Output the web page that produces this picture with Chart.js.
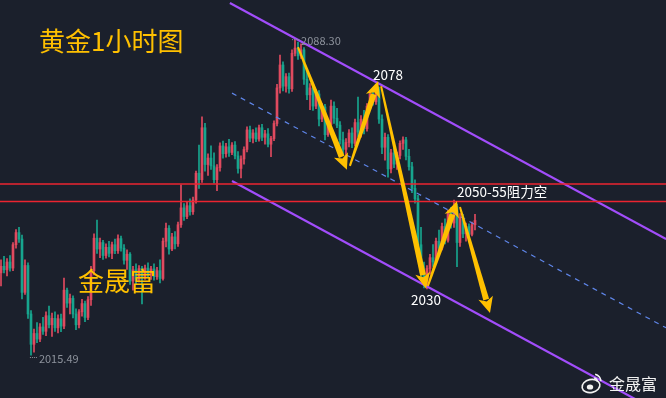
<!DOCTYPE html>
<html>
<head>
<meta charset="utf-8">
<script src="https://cdn.jsdelivr.net/npm/chart.js@4.4.1/dist/chart.umd.min.js"></script>
<style>
  html, body { margin: 0; padding: 0; background: #1b202c; }
  #box { width: 666px; height: 398px; position: relative; }
</style>
</head>
<body>
<div id="box"><canvas id="kline"></canvas></div>
<script>
// 黄金 1小时 K线 (开高低收), 从左到右
const opens = [
  2034.5, 2036.0, 2035.2, 2037.0, 2035.6, 2041.0, 2043.8, 2042.3, 2030.0, 2036.2,
  2025.0, 2018.0, 2020.5, 2019.2, 2022.0, 2021.0, 2024.6, 2022.5, 2024.0, 2021.8,
  2023.9, 2022.2, 2030.5, 2027.5, 2028.6, 2025.0, 2022.5, 2025.5, 2027.4, 2024.2,
  2028.3, 2035.0, 2042.5, 2040.0, 2041.5, 2038.5, 2040.4, 2039.0, 2041.0, 2039.6,
  2042.4, 2040.2, 2037.4, 2038.8, 2032.6, 2035.2, 2033.0, 2035.5, 2033.5, 2035.6,
  2034.2, 2035.4, 2033.6, 2035.0, 2033.2, 2041.8, 2044.8, 2040.0, 2042.8, 2041.2,
  2045.6, 2049.5, 2047.5, 2050.0, 2048.6, 2051.3, 2057.5, 2056.0, 2068.0, 2059.5,
  2061.0, 2059.2, 2056.0, 2058.8, 2063.8, 2062.0, 2063.6, 2062.3, 2064.0, 2061.5,
  2058.6, 2060.8, 2063.0, 2067.5, 2065.6, 2066.8, 2065.4, 2068.0, 2065.8, 2066.6,
  2064.2, 2065.5, 2069.0, 2077.2, 2082.5, 2077.6, 2079.8, 2077.0, 2085.2, 2086.4,
  2084.6, 2086.0, 2079.2, 2075.6, 2077.2, 2073.0, 2075.8, 2070.0, 2072.8, 2066.4,
  2068.8, 2073.0, 2070.2, 2068.6, 2065.2, 2063.0, 2064.6, 2066.8, 2064.4, 2069.2,
  2067.0, 2070.0, 2067.8, 2073.0, 2075.8, 2074.0, 2076.8, 2070.0, 2063.5, 2065.8,
  2058.5, 2062.2, 2059.6, 2061.6, 2064.4, 2065.2, 2061.4, 2059.0, 2054.0, 2051.6,
  2041.0, 2034.5, 2032.6, 2035.5, 2038.0, 2037.0, 2041.8, 2040.2, 2045.2, 2042.0,
  2048.2, 2046.0, 2049.8, 2041.5, 2047.4, 2043.5, 2045.2, 2043.4, 2045.6
];
const highs = [
  2037.5, 2038.3, 2037.8, 2038.5, 2041.5, 2044.5, 2045.0, 2043.2, 2037.5, 2036.8,
  2025.8, 2021.5, 2023.0, 2022.8, 2024.2, 2025.5, 2026.8, 2025.2, 2025.5, 2024.8,
  2025.0, 2033.3, 2031.0, 2029.6, 2029.2, 2026.2, 2026.0, 2028.4, 2028.0, 2029.0,
  2036.0, 2043.5, 2046.7, 2042.5, 2042.0, 2041.2, 2041.8, 2041.6, 2042.3, 2043.3,
  2043.0, 2041.0, 2039.8, 2039.2, 2036.0, 2036.6, 2036.2, 2036.0, 2036.3, 2036.8,
  2036.0, 2036.6, 2035.8, 2037.5, 2042.5, 2046.0, 2045.4, 2043.6, 2044.0, 2046.2,
  2054.8, 2050.5, 2050.8, 2051.6, 2052.0, 2058.0, 2064.0, 2070.5, 2069.0, 2062.0,
  2063.8, 2062.2, 2059.5, 2064.5, 2064.9, 2064.4, 2065.3, 2064.6, 2064.8, 2062.5,
  2061.5, 2063.6, 2068.2, 2068.4, 2067.6, 2068.0, 2068.6, 2068.8, 2067.4, 2067.8,
  2066.0, 2069.6, 2078.0, 2084.8, 2083.2, 2080.5, 2080.6, 2086.0, 2088.3, 2087.8,
  2087.4, 2086.5, 2081.0, 2078.2, 2078.0, 2076.8, 2076.6, 2073.6, 2073.4, 2069.6,
  2074.4, 2074.0, 2072.5, 2069.4, 2067.0, 2065.5, 2067.6, 2068.0, 2070.0, 2075.1,
  2070.8, 2072.0, 2073.6, 2076.6, 2077.0, 2078.0, 2077.4, 2071.0, 2066.8, 2066.4,
  2063.0, 2063.6, 2062.4, 2065.0, 2065.9, 2065.8, 2063.0, 2060.0, 2056.0, 2052.4,
  2045.0, 2037.0, 2036.2, 2038.8, 2041.0, 2042.5, 2044.4, 2046.0, 2047.0, 2049.0,
  2049.6, 2051.3, 2050.4, 2048.2, 2048.0, 2046.0, 2045.8, 2046.2, 2048.0
];
const lows = [
  2031.5, 2034.5, 2033.8, 2034.9, 2035.0, 2040.2, 2041.5, 2028.5, 2029.5, 2024.0,
  2015.5, 2016.2, 2018.4, 2018.6, 2020.3, 2020.0, 2021.8, 2019.8, 2021.0, 2020.6,
  2020.9, 2021.6, 2026.5, 2025.0, 2024.1, 2021.4, 2021.8, 2024.5, 2023.2, 2023.7,
  2027.0, 2034.0, 2039.0, 2038.0, 2037.6, 2037.9, 2038.2, 2037.8, 2038.9, 2039.0,
  2039.5, 2036.5, 2035.3, 2031.8, 2030.5, 2032.0, 2032.4, 2027.3, 2033.0, 2033.4,
  2033.0, 2032.8, 2033.0, 2032.2, 2032.8, 2040.5, 2038.8, 2039.6, 2040.0, 2040.6,
  2045.0, 2046.6, 2047.0, 2047.8, 2048.0, 2050.6, 2054.0, 2055.4, 2058.0, 2057.0,
  2058.4, 2055.2, 2053.5, 2058.0, 2061.0, 2061.2, 2061.4, 2061.8, 2060.8, 2057.5,
  2056.4, 2059.6, 2062.4, 2064.8, 2064.5, 2064.8, 2064.9, 2065.0, 2064.2, 2063.6,
  2061.3, 2065.0, 2068.4, 2076.0, 2076.5, 2076.2, 2076.0, 2076.4, 2084.6, 2083.8,
  2084.0, 2078.0, 2074.5, 2072.2, 2072.0, 2072.4, 2068.4, 2069.4, 2065.2, 2066.0,
  2068.4, 2069.0, 2068.0, 2064.2, 2062.0, 2060.6, 2063.6, 2063.4, 2063.8, 2066.0,
  2065.8, 2066.6, 2067.2, 2072.0, 2073.2, 2073.4, 2069.0, 2062.0, 2060.5, 2056.6,
  2057.6, 2058.8, 2058.4, 2060.8, 2063.0, 2060.6, 2058.2, 2053.0, 2050.6, 2040.0,
  2033.0, 2031.0, 2030.8, 2034.2, 2036.0, 2036.6, 2039.4, 2039.8, 2041.2, 2041.6,
  2044.8, 2045.0, 2035.9, 2040.6, 2042.6, 2041.8, 2042.6, 2043.0, 2044.4
];
const closes = [
  2036.0, 2035.2, 2037.0, 2035.6, 2041.0, 2043.8, 2042.3, 2030.0, 2036.2, 2025.0,
  2018.0, 2020.5, 2019.2, 2022.0, 2021.0, 2024.6, 2022.5, 2024.0, 2021.8, 2023.9,
  2022.2, 2030.5, 2027.5, 2028.6, 2025.0, 2022.5, 2025.5, 2027.4, 2024.2, 2028.3,
  2035.0, 2042.5, 2040.0, 2041.5, 2038.5, 2040.4, 2039.0, 2041.0, 2039.6, 2042.4,
  2040.2, 2037.4, 2038.8, 2032.6, 2035.2, 2033.0, 2035.5, 2033.5, 2035.6, 2034.2,
  2035.4, 2033.6, 2035.0, 2033.2, 2041.8, 2044.8, 2040.0, 2042.8, 2041.2, 2045.6,
  2049.5, 2047.5, 2050.0, 2048.6, 2051.3, 2057.5, 2056.0, 2068.0, 2059.5, 2061.0,
  2059.2, 2056.0, 2058.8, 2063.8, 2062.0, 2063.6, 2062.3, 2064.0, 2061.5, 2058.6,
  2060.8, 2063.0, 2067.5, 2065.6, 2066.8, 2065.4, 2068.0, 2065.8, 2066.6, 2064.2,
  2065.5, 2069.0, 2077.2, 2082.5, 2077.6, 2079.8, 2077.0, 2085.2, 2086.4, 2084.6,
  2086.0, 2079.2, 2075.6, 2077.2, 2073.0, 2075.8, 2070.0, 2072.8, 2066.4, 2068.8,
  2073.0, 2070.2, 2068.6, 2065.2, 2063.0, 2064.6, 2066.8, 2064.4, 2069.2, 2067.0,
  2070.0, 2067.8, 2073.0, 2075.8, 2074.0, 2076.8, 2070.0, 2063.5, 2065.8, 2058.5,
  2062.2, 2059.6, 2061.6, 2064.4, 2065.2, 2061.4, 2059.0, 2054.0, 2051.6, 2041.0,
  2034.5, 2032.6, 2035.5, 2038.0, 2037.0, 2041.8, 2040.2, 2045.2, 2042.0, 2048.2,
  2046.0, 2049.8, 2041.5, 2047.4, 2043.5, 2045.2, 2043.4, 2045.6, 2046.6
];

// 通道线 [K线序号, 价格]
const channelTop = [[76.3, 2096.8], [221.7, 2042.3]];
const channelMid = [[77, 2076.0], [221.7, 2021.8]];
const channelLow = [[77, 2055.7], [221.7, 2001.5]];
// 阻力区 2050-55
const resistance = [2055, 2051];

// 走势箭头 [起点序号, 起点价, 终点序号, 终点价]
const arrows = [
  [99, 2086.6, 115.3, 2058.3],
  [116.3, 2059.2, 125.7, 2078.8],
  [126.7, 2077.6, 141.7, 2030.8],
  [142.3, 2031.5, 152, 2051.1],
  [153, 2049.7, 163, 2025.2]
];

// 标注文字 [文字, 序号, 价格, 对齐]
const priceNotes = [
  ["2088.30", 99.7, 2088.0, "left"],
  ["2015.49", 12.3, 2014.6, "left"]
];
const callouts = [
  ["2078", 129, 2080.2, "center"],
  ["2050-55阻力空", 152, 2053.2, "left"],
  ["2030", 141.7, 2028.2, "center"]
];

const UP = "#e04a5f";
const DOWN = "#17a58e";
const GOLD = "#ffc000";
const FONT = "'Noto Sans CJK SC', 'Noto Sans', sans-serif";

const farbe = closes.map((c, i) => (c >= opens[i] ? UP : DOWN));
const dochte = highs.map((h, i) => ({ x: i, y: [lows[i], h] }));
const koerper = closes.map((c, i) => ({ x: i, y: [opens[i], c] }));
const toPts = arr => arr.map(p => ({ x: p[0], y: p[1] }));

// Pfeile, Texte und Logo
const deko = {
  id: "deko",
  afterDatasetsDraw(chart) {
    const ctx = chart.ctx;
    const xs = chart.scales.x, ys = chart.scales.y;
    ctx.save();

    // Pfeile, Schaft wird zur Spitze hin dicker
    ctx.fillStyle = GOLD;
    arrows.forEach(a => {
      const tx = xs.getPixelForValue(a[0]), ty = ys.getPixelForValue(a[1]);
      const hx = xs.getPixelForValue(a[2]), hy = ys.getPixelForValue(a[3]);
      const len = Math.hypot(hx - tx, hy - ty);
      const ux = (hx - tx) / len, uy = (hy - ty) / len;
      const nx = -uy, ny = ux;
      const headLen = 14, bx = hx - ux * headLen, by = hy - uy * headLen;
      ctx.beginPath();
      ctx.moveTo(tx + nx * 1, ty + ny * 1);
      ctx.lineTo(bx + nx * 3, by + ny * 3);
      ctx.lineTo(bx - nx * 3, by - ny * 3);
      ctx.lineTo(tx - nx * 1, ty - ny * 1);
      ctx.closePath();
      ctx.fill();
      ctx.beginPath();
      ctx.moveTo(hx, hy);
      ctx.lineTo(bx - ux * 2 + nx * 7.5, by - uy * 2 + ny * 7.5);
      ctx.lineTo(bx + ux * 2, by + uy * 2);
      ctx.lineTo(bx - ux * 2 - nx * 7.5, by - uy * 2 - ny * 7.5);
      ctx.closePath();
      ctx.fill();
    });

    // Hoch / Tief Beschriftung
    ctx.font = "11px " + FONT;
    ctx.textBaseline = "middle";
    priceNotes.forEach(n => {
      const px = xs.getPixelForValue(n[1]), py = ys.getPixelForValue(n[2]);
      ctx.fillStyle = "#8d929c";
      for (let d = 2; d <= 8; d += 2) ctx.fillRect(px - d, py - 2, 1, 1);
      ctx.textAlign = n[3];
      ctx.fillText(n[0], px + 1, py);
    });

    ctx.font = "13.5px " + FONT;
    ctx.fillStyle = "#ffffff";
    callouts.forEach(n => {
      ctx.textAlign = n[3];
      ctx.fillText(n[0], xs.getPixelForValue(n[1]), ys.getPixelForValue(n[2]));
    });

    // Titel und Wasserzeichen
    ctx.fillStyle = GOLD;
    ctx.textAlign = "left";
    ctx.font = "26px " + FONT;
    ctx.fillText("黄金1小时图", 39, 41);
    ctx.font = "26px " + FONT;
    ctx.fillText("金晟富", 78, 281);

    // Weibo-Logo unten rechts
    ctx.strokeStyle = "#f2f2f2";
    ctx.fillStyle = "#f2f2f2";
    ctx.lineWidth = 1.6;
    ctx.beginPath();
    ctx.ellipse(591, 386, 9, 6.5, -0.2, 0, Math.PI * 2);
    ctx.stroke();
    ctx.beginPath();
    ctx.ellipse(590, 387, 3.2, 2.6, 0, 0, Math.PI * 2);
    ctx.fill();
    ctx.beginPath();
    ctx.arc(593, 382, 8, -1.3, -0.1);
    ctx.stroke();
    ctx.beginPath();
    ctx.arc(593, 382, 4.5, -1.3, -0.1);
    ctx.stroke();
    ctx.font = "16px " + FONT;
    ctx.fillText("金晟富", 609, 384);
    ctx.restore();
  }
};

new Chart(document.getElementById("kline"), {
  type: "bar",
  data: {
    datasets: [
      {
        label: "wick",
        data: dochte,
        backgroundColor: farbe,
        barThickness: 1,
        grouped: false,
        order: 3
      },
      {
        label: "body",
        data: koerper,
        backgroundColor: farbe,
        barThickness: 2,
        grouped: false,
        order: 2
      },
      {
        type: "line",
        label: "top",
        data: toPts(channelTop),
        borderColor: "#a24dfb",
        borderWidth: 2.2,
        pointRadius: 0,
        order: 1
      },
      {
        type: "line",
        label: "low",
        data: toPts(channelLow),
        borderColor: "#a24dfb",
        borderWidth: 2.2,
        pointRadius: 0,
        order: 1
      },
      {
        type: "line",
        label: "mid",
        data: toPts(channelMid),
        borderColor: "#5f86ea",
        borderWidth: 1.2,
        borderDash: [5, 5],
        pointRadius: 0,
        order: 1
      },
      ...resistance.map(r => ({
        type: "line",
        label: "r" + r,
        data: [{ x: -1, y: r }, { x: 223, y: r }],
        borderColor: "#ec2430",
        borderWidth: 1.5,
        pointRadius: 0,
        order: 0
      }))
    ]
  },
  options: {
    responsive: true,
    maintainAspectRatio: false,
    animation: false,
    layout: { padding: 0 },
    plugins: { legend: { display: false }, tooltip: { enabled: false } },
    scales: {
      x: { type: "linear", min: -0.333, max: 221.667, offset: false, display: false },
      y: { min: 2005.6, max: 2097.5, display: false }
    }
  },
  plugins: [deko]
});
</script>
</body>
</html>
